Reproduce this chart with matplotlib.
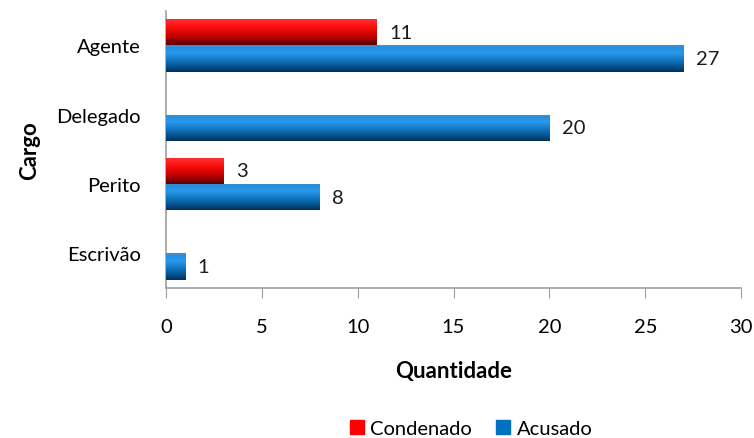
import numpy as np
import matplotlib
matplotlib.use("Agg")
import matplotlib.pyplot as plt
from matplotlib.colors import LinearSegmentedColormap
from matplotlib.patches import Patch

categories = ["Agente", "Delegado", "Perito", "Escrivão"]
condenado = [11, 0, 3, 0]
acusado = [27, 20, 8, 1]
xticks = [0, 5, 10, 15, 20, 25, 30]

plt.rcParams['font.family'] = ['Lato', 'DejaVu Sans']

fig = plt.figure(figsize=(7.54, 4.39), dpi=100)
ax = fig.add_axes([0.220, 0.342, 0.763, 0.631])

y = np.arange(len(categories))
h = 0.38

red_cmap = LinearSegmentedColormap.from_list(
    "r", [(0, "#5a0000"), (0.35, "#c80000"), (0.7, "#ff1010"), (0.9, "#ff2a2a"), (1, "#e83030")])
blue_cmap = LinearSegmentedColormap.from_list(
    "b", [(0, "#00305a"), (0.35, "#0a6ab0"), (0.7, "#2a98ec"), (0.9, "#2590e0"), (1, "#4a8ac8")])

bars_c = ax.barh(y - h / 2, condenado, height=h, color="#ff0000", zorder=2)
bars_a = ax.barh(y + h / 2, acusado, height=h, color="#0070c0", zorder=2)

grad = np.linspace(1, 0, 256).reshape(-1, 1)
for bars, cmap in ((bars_c, red_cmap), (bars_a, blue_cmap)):
    for b in bars:
        if b.get_width() <= 0:
            continue
        x0, y0 = b.get_x(), b.get_y()
        w, hh = b.get_width(), b.get_height()
        im = ax.imshow(grad, cmap=cmap, aspect="auto", vmin=0, vmax=1,
                       extent=(x0, x0 + w, y0, y0 + hh), origin="lower", zorder=3)
        im.set_clip_path(b)

for bars, vals in ((bars_c, condenado), (bars_a, acusado)):
    for b, v in zip(bars, vals):
        if v <= 0:
            continue
        ax.text(v + 0.65, b.get_y() + b.get_height() / 2, str(v),
                va="center", ha="left", fontsize=14.5, color="#1a1a1a", zorder=4)

ax.set_xlim(0, 30)
ax.set_ylim(len(categories) - 0.5, -0.5)
ax.set_xticks(xticks)
ax.set_xticklabels([str(t) for t in xticks], fontsize=14.5)
ax.set_yticks(y)
ax.set_yticklabels(categories, fontsize=14.5)
ax.tick_params(axis="y", length=0, pad=18)
ax.tick_params(axis="x", length=7, color="#a0a0a0", pad=15, direction="out")

for s in ("top", "right"):
    ax.spines[s].set_visible(False)
for s in ("left", "bottom"):
    ax.spines[s].set_color("#a0a0a0")
    ax.spines[s].set_linewidth(1.2)

ax.set_xlabel("Quantidade", fontsize=16, fontweight="bold", labelpad=18)
ax.set_ylabel("Cargo", fontsize=16, fontweight="bold", labelpad=12)

handles = [Patch(color="#ff0000", label="Condenado"), Patch(color="#0070c0", label="Acusado")]
fig.legend(handles=handles, loc="center", bbox_to_anchor=(0.625, 0.022), ncol=2,
           frameon=False, fontsize=14.5, handlelength=0.7, handleheight=0.7,
           handletextpad=0.3, columnspacing=1.2)

fig.savefig("out.png", dpi=100)
